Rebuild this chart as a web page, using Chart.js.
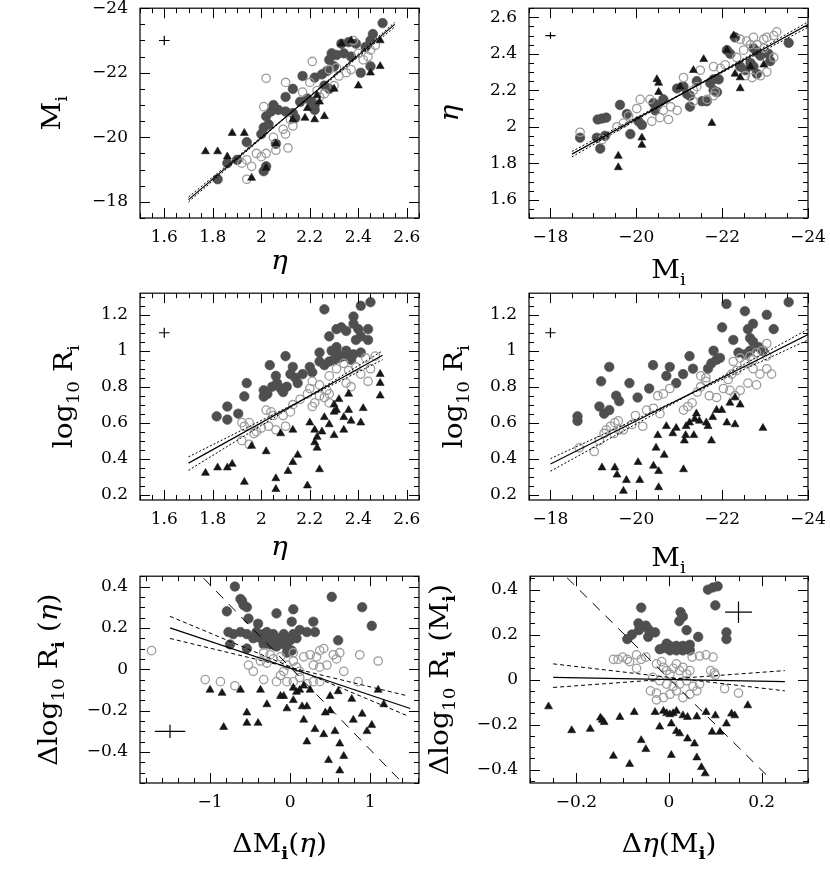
<!DOCTYPE html>
<html>
<head>
<meta charset="utf-8">
<script src="https://cdn.jsdelivr.net/npm/chart.js@4.4.0/dist/chart.umd.min.js"></script>
<style>
  body { margin: 0; background: #fff; width: 830px; height: 875px; position: relative; overflow: hidden; }
  canvas { position: absolute; }
</style>
</head>
<body>
<script>
// ---- data: [x, y] pairs per panel and per group ----

// top-left: eta vs M_i
const p1Dark = [[1.82,-18.7],[1.86,-19.2],[1.9,-19.3],[1.94,-19.85],[2.02,-19.1],[2.01,-18.95],[2.06,-19.8],[2.0,-20.1],[2.01,-20.3],[2.03,-20.4],[2.02,-20.65],[2.04,-20.8],[2.07,-20.85],[2.1,-20.8],[2.05,-21.0],[2.1,-21.25],[2.13,-21.5],[2.17,-21.9],[2.19,-21.2],[2.21,-21.1],[2.22,-21.0],[2.22,-21.85],[2.25,-21.95],[2.27,-22.05],[2.28,-22.4],[2.29,-22.6],[2.31,-22.55],[2.34,-22.6],[2.37,-22.5],[2.3,-22.2],[2.33,-22.9],[2.36,-22.95],[2.39,-22.9],[2.43,-22.8],[2.45,-23.0],[2.46,-23.2],[2.5,-23.54],[2.41,-22.0],[2.45,-22.2],[2.26,-21.6],[2.28,-21.5],[2.21,-20.95],[2.22,-20.85],[2.14,-20.6],[2.13,-20.75],[2.16,-21.1]];
const p1Open = [[1.94,-18.7],[1.92,-19.2],[1.94,-19.3],[1.96,-19.1],[1.98,-19.5],[2.0,-19.4],[2.02,-19.5],[2.01,-20.95],[2.02,-21.83],[2.1,-21.7],[2.21,-22.35],[2.1,-20.1],[2.09,-20.25],[2.11,-19.67],[2.13,-20.35],[2.12,-20.55],[2.05,-20.0],[2.06,-19.6],[2.23,-21.45],[2.24,-21.25],[2.26,-21.35],[2.3,-21.6],[2.32,-21.9],[2.35,-22.0],[2.37,-22.1],[2.4,-22.6],[2.42,-22.4],[2.45,-22.7],[2.47,-22.85],[2.44,-22.5],[2.28,-22.1],[2.31,-22.15],[2.38,-23.0],[2.2,-21.7],[2.17,-21.4]];
const p1Tri = [[1.77,-19.56],[1.82,-19.56],[1.88,-20.13],[1.93,-20.13],[1.86,-19.4],[1.96,-18.74],[2.02,-19.05],[2.06,-19.8],[2.13,-20.55],[2.18,-20.6],[2.22,-20.55],[2.26,-20.65],[2.24,-21.1],[2.4,-21.6],[2.37,-23.0],[2.45,-22.0],[2.49,-22.2],[2.49,-23.0],[2.33,-22.9],[2.3,-21.5],[2.23,-21.3],[2.19,-20.9]];
const p1FitX = [1.70, 2.55], p1FitY = [-18.07, -23.5];
const p1LoY = [-18.0, -23.56], p1HiY = [-18.15, -23.42];
const p1Err = [1.6, -23, 0.022, 0.15];   // centre x, centre y, half x, half y

// top-right: M_i vs eta
const p2Dark = [[-18.69,1.94],[-19.08,1.94],[-19.16,1.88],[-19.1,2.04],[-19.2,2.045],[-19.3,2.05],[-19.27,1.95],[-19.62,2.12],[-19.78,2.07],[-19.86,1.96],[-20.05,2.03],[-20.13,2.01],[-20.4,2.13],[-20.5,2.12],[-20.63,2.15],[-20.44,2.09],[-20.95,2.21],[-21.1,2.22],[-21.18,2.18],[-21.25,2.17],[-21.25,2.11],[-21.41,2.25],[-21.53,2.14],[-21.64,2.14],[-21.72,2.24],[-21.8,2.26],[-21.92,2.26],[-21.8,2.2],[-21.88,2.19],[-22.11,2.42],[-22.19,2.4],[-22.3,2.49],[-22.42,2.33],[-22.54,2.31],[-22.66,2.35],[-22.73,2.33],[-22.73,2.43],[-22.81,2.41],[-22.89,2.39],[-22.81,2.29],[-23.08,2.4],[-23.12,2.36],[-23.55,2.46]];
const p2Open = [[-18.69,1.97],[-19.2,1.93],[-19.55,2.0],[-19.7,2.02],[-19.82,2.06],[-20.01,2.1],[-20.09,2.15],[-20.32,2.15],[-20.36,2.03],[-20.55,2.05],[-20.75,2.04],[-20.63,2.09],[-20.8,2.11],[-20.95,2.09],[-21.1,2.27],[-21.33,2.2],[-21.41,2.22],[-21.49,2.31],[-21.33,2.14],[-21.65,2.15],[-21.8,2.17],[-21.84,2.19],[-21.8,2.33],[-21.96,2.32],[-22.07,2.34],[-22.34,2.38],[-22.5,2.42],[-22.66,2.45],[-22.81,2.45],[-22.42,2.48],[-22.57,2.47],[-22.73,2.49],[-22.97,2.48],[-23.04,2.49],[-23.2,2.5],[-23.27,2.52],[-22.54,2.28],[-22.7,2.27],[-22.89,2.28],[-23.04,2.3],[-23.2,2.38],[-22.97,2.43]];
const p2Tri = [[-19.58,1.84],[-19.58,1.777],[-20.13,1.94],[-20.13,1.9],[-20.48,2.26],[-20.52,2.24],[-20.52,2.19],[-21.02,2.22],[-21.33,2.31],[-21.57,2.37],[-21.76,2.02],[-22.11,2.42],[-22.27,2.5],[-22.42,2.21],[-22.97,2.34],[-22.3,2.29],[-22.42,2.27],[-22.66,2.33]];
const p2FitX = [-18.5, -24.0], p2FitY = [1.85, 2.56];
const p2LoY = [1.835, 2.575], p2HiY = [1.865, 2.545];
const p2Err = [-18, 2.5, 0.12, 0.018];

// middle-left: eta vs log10 R_i
const p3Dark = [[1.816,0.635],[1.86,0.617],[1.86,0.69],[1.905,0.65],[1.93,0.746],[1.94,0.82],[2.035,0.92],[2.01,0.78],[2.025,0.76],[2.045,0.8],[2.065,0.82],[2.08,0.79],[2.09,0.77],[2.105,0.8],[2.01,0.745],[2.06,0.86],[2.1,0.97],[2.13,0.91],[2.12,0.87],[2.14,0.85],[2.15,0.82],[2.17,0.87],[2.2,0.91],[2.21,0.88],[2.24,0.99],[2.24,0.94],[2.26,0.92],[2.28,0.94],[2.3,0.95],[2.26,1.23],[2.28,1.08],[2.31,1.12],[2.33,1.13],[2.35,1.11],[2.38,1.15],[2.29,1.0],[2.31,0.99],[2.32,0.96],[2.34,0.97],[2.35,1.0],[2.38,1.19],[2.4,1.12],[2.41,1.25],[2.45,1.27],[2.39,1.06],[2.41,1.08],[2.44,1.12],[2.44,1.06],[2.38,0.98],[2.41,0.99],[2.37,0.95],[2.31,1.02]];
const p3Open = [[1.92,0.6],[1.93,0.58],[1.95,0.6],[1.92,0.5],[1.95,0.48],[1.97,0.54],[1.98,0.55],[2.0,0.57],[2.02,0.67],[2.04,0.66],[2.05,0.64],[2.03,0.58],[2.06,0.56],[2.1,0.58],[2.09,0.64],[2.12,0.66],[2.13,0.7],[2.16,0.73],[2.19,0.76],[2.21,0.69],[2.22,0.71],[2.21,0.83],[2.24,0.81],[2.27,0.78],[2.28,0.86],[2.24,0.75],[2.26,0.74],[2.28,0.76],[2.31,0.9],[2.34,0.93],[2.36,0.89],[2.39,0.91],[2.35,0.82],[2.37,0.8],[2.41,0.87],[2.44,0.83],[2.45,0.9],[2.43,0.96],[2.47,0.97],[2.28,0.71],[2.2,0.79]];
const p3Tri = [[1.77,0.32],[1.82,0.35],[1.86,0.35],[1.88,0.37],[1.93,0.27],[1.96,0.47],[2.02,0.44],[2.06,0.29],[2.06,0.23],[2.08,0.54],[2.13,0.56],[2.11,0.33],[2.13,0.38],[2.15,0.42],[2.19,0.25],[2.2,0.6],[2.22,0.56],[2.23,0.52],[2.22,0.49],[2.23,0.46],[2.24,0.34],[2.25,0.55],[2.26,0.63],[2.28,0.59],[2.3,0.66],[2.31,0.67],[2.34,0.63],[2.36,0.67],[2.3,0.53],[2.34,0.56],[2.3,0.7],[2.32,0.73],[2.37,0.61],[2.41,0.6],[2.42,0.68],[2.36,0.76],[2.49,0.87],[2.49,0.82],[2.49,0.75]];
const p3FitX = [1.70, 2.50], p3FitY = [0.375, 0.975];
const p3LoY = [0.41, 0.95], p3HiY = [0.335, 1.0];
const p3Err = [1.6, 1.1, 0.022, 0.028];

// middle-right: M_i vs log10 R_i
const p4Dark = [[-18.63,0.635],[-18.63,0.61],[-19.14,0.69],[-19.18,0.83],[-19.37,0.91],[-19.25,0.65],[-19.37,0.67],[-19.53,0.75],[-19.6,0.72],[-19.84,0.82],[-20.03,0.74],[-20.3,0.79],[-20.39,0.92],[-20.7,0.86],[-20.78,0.91],[-20.93,0.82],[-21.09,0.87],[-21.24,0.97],[-21.32,0.9],[-21.67,0.9],[-21.75,0.93],[-21.87,0.95],[-21.95,0.96],[-21.8,1.0],[-22.0,1.13],[-22.1,1.26],[-22.26,1.06],[-22.38,0.99],[-22.53,0.98],[-22.65,1.0],[-22.53,1.22],[-22.6,1.12],[-22.65,1.07],[-22.72,1.05],[-23.04,1.2],[-23.2,1.12],[-23.55,1.27],[-22.72,1.15],[-22.85,1.02],[-22.95,1.0]];
const p4Open = [[-18.67,0.46],[-19.02,0.44],[-19.14,0.5],[-19.25,0.54],[-19.3,0.56],[-19.4,0.58],[-19.48,0.54],[-19.6,0.56],[-19.5,0.6],[-19.58,0.61],[-19.7,0.56],[-19.9,0.59],[-19.98,0.64],[-20.15,0.58],[-20.24,0.67],[-20.4,0.68],[-20.5,0.75],[-20.63,0.76],[-20.78,0.79],[-20.55,0.65],[-21.1,0.67],[-21.2,0.69],[-21.3,0.71],[-21.42,0.77],[-21.5,0.8],[-21.62,0.83],[-21.5,0.86],[-21.62,0.85],[-21.7,0.75],[-21.87,0.74],[-22.03,0.79],[-22.18,0.78],[-22.14,0.84],[-22.22,0.87],[-22.34,0.89],[-22.26,0.94],[-22.42,0.96],[-22.53,0.93],[-22.65,0.97],[-22.72,0.95],[-22.8,0.99],[-22.92,1.0],[-23.04,0.97],[-23.04,1.04],[-22.72,0.9],[-22.88,0.87],[-23.04,0.9],[-23.15,0.87],[-22.8,0.81],[-22.6,0.82],[-22.3,0.75],[-22.42,0.78]];
const p4Tri = [[-19.2,0.35],[-19.5,0.35],[-19.55,0.31],[-19.77,0.28],[-19.7,0.22],[-20.08,0.28],[-20.04,0.38],[-20.4,0.36],[-20.52,0.33],[-20.52,0.24],[-20.46,0.46],[-20.5,0.53],[-20.65,0.42],[-20.85,0.54],[-20.7,0.58],[-20.93,0.57],[-21.1,0.34],[-21.12,0.5],[-21.15,0.53],[-21.34,0.53],[-21.16,0.58],[-21.24,0.6],[-21.36,0.62],[-21.47,0.61],[-21.63,0.6],[-21.67,0.58],[-21.78,0.63],[-21.4,0.65],[-21.75,0.5],[-21.87,0.67],[-21.99,0.67],[-22.11,0.6],[-22.3,0.59],[-22.18,0.71],[-22.42,0.7],[-22.3,0.74],[-22.95,0.57]];
const p4FitX = [-18.0, -24.0], p4FitY = [0.37, 1.09];
const p4LoY = [0.40, 1.06], p4HiY = [0.33, 1.12];
const p4Err = [-18, 1.1, 0.12, 0.028];

// bottom-left: dM_i(eta) vs dlog10 R_i(eta)
const p5Dark = [[-0.69,0.4],[-0.62,0.34],[-0.6,0.33],[-0.58,0.31],[-0.54,0.3],[-0.79,0.28],[-0.52,0.245],[-0.77,0.18],[-0.71,0.17],[-0.62,0.18],[-0.54,0.17],[-0.75,0.12],[-0.54,0.1],[-0.46,0.15],[-0.42,0.18],[-0.37,0.15],[-0.33,0.17],[-0.29,0.18],[-0.25,0.15],[-0.21,0.17],[-0.17,0.15],[-0.12,0.14],[-0.08,0.17],[-0.04,0.15],[0.0,0.14],[0.04,0.17],[0.08,0.15],[-0.33,0.12],[-0.25,0.12],[-0.17,0.11],[-0.08,0.12],[-0.04,0.11],[-0.4,0.22],[-0.17,0.27],[0.04,0.29],[0.02,0.23],[0.29,0.23],[0.12,0.19],[0.21,0.18],[0.31,0.18],[0.52,0.35],[0.9,0.3],[1.02,0.21],[0.6,0.14],[-0.04,0.08],[0.02,0.09]];
const p5Open = [[-1.73,0.09],[-1.06,-0.05],[-0.87,-0.06],[-0.69,-0.08],[-0.52,0.02],[-0.33,0.08],[-0.25,0.07],[-0.37,0.04],[-0.29,0.03],[-0.21,0.05],[-0.12,0.06],[-0.46,-0.01],[-0.33,-0.05],[-0.17,-0.06],[-0.08,-0.01],[-0.04,0.02],[0.04,0.04],[0.08,0.01],[0.12,-0.01],[0.17,0.06],[-0.12,-0.03],[-0.04,-0.06],[0.04,-0.06],[0.12,-0.04],[0.21,-0.07],[0.29,-0.06],[0.37,-0.06],[0.25,0.07],[0.33,0.06],[0.37,0.09],[0.42,0.1],[0.29,0.02],[0.37,0.01],[0.46,0.02],[0.54,0.07],[0.58,0.05],[0.62,0.08],[0.67,-0.01],[0.87,0.07],[1.1,0.04],[0.85,-0.06],[0.04,0.08]];
const p5Tri = [[-1.0,-0.1],[-0.85,-0.115],[-0.62,-0.1],[-0.37,-0.1],[-0.29,-0.17],[-0.54,-0.21],[-0.54,-0.26],[-0.4,-0.26],[-0.83,-0.28],[-0.12,-0.13],[-0.08,-0.13],[-0.04,-0.19],[0.04,-0.09],[0.08,-0.11],[0.12,-0.1],[0.17,-0.08],[0.04,-0.15],[0.15,-0.18],[0.21,-0.18],[0.17,-0.245],[0.25,-0.1],[0.31,-0.29],[0.21,-0.35],[0.42,-0.315],[0.44,-0.21],[0.5,-0.2],[0.5,-0.13],[0.56,-0.3],[0.6,-0.107],[0.62,-0.36],[0.67,-0.42],[0.62,-0.49],[0.48,-0.44],[0.77,-0.144],[0.79,-0.245],[0.9,-0.216],[0.96,-0.3],[1.02,-0.27],[1.1,-0.1],[1.17,-0.17]];
const p5FitX = [-1.5, 1.5], p5FitY = [0.2, -0.19];
const p5LoX = [-1.5, 1.46], p5LoY = [0.256, -0.224];
const p5HiX = [-1.5, 1.46], p5HiY = [0.149, -0.128];
const p5DirX = [-1.08, 1.37], p5DirY = [0.44, -0.536];
const p5Err = [-1.5, -0.3, 0.19, 0.032];

// bottom-right: d eta(M_i) vs dlog10 R_i(M_i)
const p6Dark = [[0.084,0.4],[0.095,0.41],[0.105,0.415],[0.1,0.33],[-0.06,0.32],[-0.066,0.25],[-0.05,0.24],[-0.045,0.225],[-0.04,0.21],[-0.045,0.19],[-0.09,0.18],[-0.08,0.2],[-0.065,0.22],[-0.03,0.21],[0.025,0.3],[0.03,0.28],[0.022,0.26],[0.038,0.22],[0.063,0.19],[0.124,0.21],[0.124,0.18],[-0.005,0.16],[0.002,0.15],[0.009,0.14],[0.016,0.15],[0.023,0.14],[0.03,0.15],[0.038,0.14],[0.045,0.13],[0.002,0.13],[0.016,0.13],[-0.012,0.14],[-0.02,0.135],[0.03,0.13],[0.045,0.155]];
const p6Open = [[-0.12,0.09],[-0.11,0.09],[-0.1,0.1],[-0.09,0.09],[-0.07,0.11],[-0.06,0.09],[-0.05,0.1],[-0.07,0.05],[-0.085,0.08],[-0.027,0.07],[-0.016,0.08],[-0.012,0.055],[-0.005,0.04],[0.002,0.025],[0.009,0.05],[0.016,0.07],[0.023,0.04],[0.03,0.055],[0.038,0.025],[0.045,0.04],[-0.035,0.01],[-0.02,-0.005],[-0.005,-0.02],[0.009,-0.03],[0.023,-0.02],[0.038,-0.005],[0.052,-0.03],[0.066,-0.02],[-0.04,-0.05],[-0.027,-0.06],[-0.012,-0.08],[0.002,-0.065],[0.016,-0.05],[0.03,-0.08],[0.045,-0.065],[0.06,-0.05],[-0.027,-0.09],[0.05,0.1],[0.066,0.105],[0.08,0.11],[0.095,0.1],[0.09,0.04],[0.098,0.03],[0.12,-0.04],[0.15,-0.06],[0.1,0.02]];
const p6Tri = [[-0.26,-0.12],[-0.21,-0.226],[-0.17,-0.22],[-0.148,-0.17],[-0.144,-0.18],[-0.14,-0.19],[-0.106,-0.167],[-0.075,-0.145],[-0.12,-0.34],[-0.085,-0.376],[-0.06,-0.27],[-0.05,-0.31],[-0.03,-0.145],[-0.02,-0.21],[-0.012,-0.14],[-0.005,-0.15],[0.002,-0.155],[0.009,-0.15],[0.016,-0.14],[0.005,-0.196],[0.005,-0.336],[0.016,-0.23],[0.023,-0.24],[0.03,-0.16],[0.04,-0.167],[0.04,-0.263],[0.055,-0.285],[0.06,-0.347],[0.07,-0.39],[0.08,-0.145],[0.1,-0.16],[0.078,-0.418],[0.093,-0.233],[0.11,-0.233],[0.124,-0.196],[0.135,-0.152],[0.142,-0.16],[0.17,-0.115],[0.06,-0.165]];
const p6FitX = [-0.25, 0.25], p6FitY = [0.01, -0.009];
const p6LoX = [-0.25, 0.25], p6LoY = [0.07, -0.05];
const p6HiX = [-0.25, 0.25], p6HiY = [-0.035, 0.04];
const p6DirX = [-0.22, 0.22], p6DirY = [0.453, -0.444];
const p6Err = [0.15, 0.3, 0.029, 0.048];

// tick values
const ticksEta = [1.6, 1.8, 2, 2.2, 2.4, 2.6];
const ticksMag = [-24, -22, -20, -18];
const ticksLogR = [0.2, 0.4, 0.6, 0.8, 1, 1.2];
const ticksDM = [-1, 0, 1];
const ticksDR = [-0.4, -0.2, 0, 0.2, 0.4];
const ticksDEta = [-0.2, 0, 0.2];

// ---- drawing ----
const ML = 140, MT = 22, MR = 22, MB = 88;
const YAXIS_W = 60, XAXIS_H = 40;
const TITLE_FONT = 'DejaVu Serif';
const TITLE_SIZE = 26, SUB_SIZE = 17, SUB_DROP = 7, TITLE_STRETCH = 1.08;

const pts = arr => arr.map(([x, y]) => ({x, y}));
const pair = (xs, ys) => xs.map((v, i) => ({x: v, y: ys[i]}));

const SYMBOLS = {
  dark: {pointStyle: 'circle', pointRadius: 4.8, backgroundColor: '#4f4f4f', borderColor: '#4f4f4f', borderWidth: 0.6, order: 3},
  open: {pointStyle: 'circle', pointRadius: 4.2, backgroundColor: 'rgba(0,0,0,0)', borderColor: '#9c9c9c', borderWidth: 1.3, order: 2},
  tri:  {pointStyle: 'triangle', pointRadius: 4.6, backgroundColor: '#161616', borderColor: '#161616', borderWidth: 0.6, order: 1}
};

function lineSet(data, dash, width) {
  return {data, showLine: true, pointRadius: 0, borderColor: '#000', borderWidth: width || 1,
          borderDash: dash || [], fill: false, order: 0};
}

function errSets(e) {
  const [cx, cy, hx, hy] = e;
  return [lineSet(pair([cx - hx, cx + hx], [cy, cy]), [], 1.2),
          lineSet(pair([cx, cx], [cy - hy, cy + hy]), [], 1.2)];
}

function fmt(v) {
  return String(Math.round(v * 100) / 100).replace('-', '\u2212');
}

function axisOpts(a, horiz) {
  return {
    type: 'linear', min: a.min, max: a.max, reverse: !!a.reverse,
    grid: {display: false, drawTicks: false, tickLength: 0},
    border: {display: false},
    ticks: {autoSkip: false, maxRotation: 0, padding: horiz ? 9 : 12, color: '#000',
            font: {family: '"DejaVu Serif", "Liberation Serif", serif', size: 17}, callback: v => fmt(v)},
    afterBuildTicks: s => { s.ticks = a.major.map(v => ({value: v})); },
    afterFit: s => { if (horiz) s.height = XAXIS_H; else s.width = YAXIS_W; }
  };
}

function fontFor(p) {
  const size = p.sub ? SUB_SIZE : TITLE_SIZE;
  const style = p.it ? 'italic ' : '';
  const weight = p.b ? 'bold ' : '';
  return style + weight + size + 'px "' + TITLE_FONT + '"';
}

function drawRich(ctx, parts, cx, by, rotated) {
  ctx.save();
  ctx.translate(cx, by);
  if (rotated) ctx.rotate(-Math.PI / 2);
  ctx.scale(TITLE_STRETCH, 1);
  ctx.fillStyle = '#000';
  ctx.textBaseline = 'alphabetic';
  ctx.textAlign = 'left';
  let total = 0;
  parts.forEach(p => { ctx.font = fontFor(p); total += ctx.measureText(p.t).width; });
  let x = -total / 2;
  parts.forEach(p => {
    ctx.font = fontFor(p);
    ctx.fillText(p.t, x, p.sub ? SUB_DROP : 0);
    x += ctx.measureText(p.t).width;
  });
  ctx.restore();
}

function minorValues(a) {
  const out = [];
  const start = Math.ceil(Math.min(a.min, a.max) / a.minor - 1e-6);
  const end = Math.floor(Math.max(a.min, a.max) / a.minor + 1e-6);
  for (let k = start; k <= end; k++) out.push(k * a.minor);
  return out;
}

function decoPlugin(p) {
  return {
    id: 'deco',
    afterDraw(chart) {
      const ctx = chart.ctx, area = chart.chartArea;
      const sx = chart.scales.x, sy = chart.scales.y;
      ctx.save();
      ctx.strokeStyle = '#000';
      ctx.lineWidth = 1.2;
      ctx.strokeRect(area.left, area.top, area.right - area.left, area.bottom - area.top);
      ctx.lineWidth = 1;
      ctx.beginPath();
      const tickX = (v, len) => {
        const px = Math.round(sx.getPixelForValue(v)) + 0.5;
        ctx.moveTo(px, area.bottom); ctx.lineTo(px, area.bottom - len);
        ctx.moveTo(px, area.top); ctx.lineTo(px, area.top + len);
      };
      const tickY = (v, len) => {
        const py = Math.round(sy.getPixelForValue(v)) + 0.5;
        ctx.moveTo(area.left, py); ctx.lineTo(area.left + len, py);
        ctx.moveTo(area.right, py); ctx.lineTo(area.right - len, py);
      };
      minorValues(p.x).forEach(v => tickX(v, 5));
      p.x.major.forEach(v => tickX(v, 10));
      minorValues(p.y).forEach(v => tickY(v, 5));
      p.y.major.forEach(v => tickY(v, 10));
      ctx.stroke();
      ctx.restore();

      const cxMid = (area.left + area.right) / 2;
      const cyMid = (area.top + area.bottom) / 2;
      drawRich(ctx, p.xTitle, cxMid, area.bottom + p.xTitleDy, false);
      drawRich(ctx, p.yTitle, area.left - p.yTitleDx, cyMid, true);
    }
  };
}

function makePanel(p) {
  const [L, T, R, B] = p.box;
  const cw = (R - L) + ML + MR, ch = (B - T) + MT + MB;
  const cv = document.createElement('canvas');
  cv.width = cw; cv.height = ch;
  cv.style.left = (L - ML) + 'px';
  cv.style.top = (T - MT) + 'px';
  cv.style.width = cw + 'px';
  cv.style.height = ch + 'px';
  document.body.appendChild(cv);

  const datasets = [];
  p.lines.forEach(l => datasets.push(lineSet(l.data, l.dash, l.width)));
  datasets.push(...errSets(p.err));
  datasets.push(Object.assign({data: pts(p.tri)}, SYMBOLS.tri));
  datasets.push(Object.assign({data: pts(p.open)}, SYMBOLS.open));
  datasets.push(Object.assign({data: pts(p.dark)}, SYMBOLS.dark));

  new Chart(cv, {
    type: 'scatter',
    data: {datasets},
    options: {
      responsive: false,
      animation: false,
      events: [],
      layout: {padding: {left: ML - YAXIS_W, top: MT, right: MR, bottom: MB - XAXIS_H}},
      scales: {x: axisOpts(p.x, true), y: axisOpts(p.y, false)},
      plugins: {legend: {display: false}, tooltip: {enabled: false}}
    },
    plugins: [decoPlugin(p)]
  });
}

const DOT = [2, 2], DASH = [4, 3], LONG = [10, 8];
const tEta = [{t: '\u03b7', it: true}];
const tMag = [{t: 'M'}, {t: 'i', sub: true}];
const tLogR = [{t: 'log'}, {t: '10', sub: true}, {t: ' R'}, {t: 'i', sub: true}];

const axEta = {min: 1.5, max: 2.65, major: ticksEta, minor: 0.05};
const axMag = {min: -24, max: -17.5, reverse: true, major: ticksMag, minor: 0.5};
const axLogR = {min: 0.17, max: 1.32, major: ticksLogR, minor: 0.05};

const panels = [
  {box: [140, 8, 419, 218], x: axEta, y: axMag,
   dark: p1Dark, open: p1Open, tri: p1Tri, err: p1Err,
   lines: [{data: pair(p1FitX, p1FitY), width: 1.2},
           {data: pair(p1FitX, p1LoY), dash: DOT}, {data: pair(p1FitX, p1HiY), dash: DOT}],
   xTitle: tEta, xTitleDy: 51, yTitle: tMag, yTitleDx: 80},
  {box: [529, 8, 808, 218], x: axMag, y: axEta,
   dark: p2Dark, open: p2Open, tri: p2Tri, err: p2Err,
   lines: [{data: pair(p2FitX, p2FitY), width: 1.2},
           {data: pair(p2FitX, p2LoY), dash: DOT}, {data: pair(p2FitX, p2HiY), dash: DOT}],
   xTitle: tMag, xTitleDy: 60, yTitle: tEta, yTitleDx: 71},
  {box: [140, 293, 419, 500], x: axEta, y: axLogR,
   dark: p3Dark, open: p3Open, tri: p3Tri, err: p3Err,
   lines: [{data: pair(p3FitX, p3FitY), width: 1.2},
           {data: pair(p3FitX, p3LoY), dash: DOT}, {data: pair(p3FitX, p3HiY), dash: DOT}],
   xTitle: tEta, xTitleDy: 55, yTitle: tLogR, yTitleDx: 68},
  {box: [529, 293, 808, 500], x: axMag, y: axLogR,
   dark: p4Dark, open: p4Open, tri: p4Tri, err: p4Err,
   lines: [{data: pair(p4FitX, p4FitY), width: 1.2},
           {data: pair(p4FitX, p4LoY), dash: DOT}, {data: pair(p4FitX, p4HiY), dash: DOT}],
   xTitle: tMag, xTitleDy: 66, yTitle: tLogR, yTitleDx: 67},
  {box: [140, 576, 419, 783], x: {min: -1.875, max: 1.61, major: ticksDM, minor: 0.2},
   y: {min: -0.55, max: 0.45, major: ticksDR, minor: 0.05},
   dark: p5Dark, open: p5Open, tri: p5Tri, err: p5Err,
   lines: [{data: pair(p5FitX, p5FitY), width: 1.2},
           {data: pair(p5LoX, p5LoY), dash: DASH}, {data: pair(p5HiX, p5HiY), dash: DASH},
           {data: pair(p5DirX, p5DirY), dash: LONG}],
   xTitle: [{t: '\u0394M'}, {t: 'i', sub: true, b: true}, {t: '('}, {t: '\u03b7', it: true}, {t: ')'}],
   xTitleDy: 69,
   yTitle: [{t: '\u0394log'}, {t: '10', sub: true}, {t: ' R'}, {t: 'i', sub: true, b: true},
            {t: ' ('}, {t: '\u03b7', it: true}, {t: ')'}],
   yTitleDx: 83},
  {box: [530, 576, 808, 783], x: {min: -0.3, max: 0.3, major: ticksDEta, minor: 0.05},
   y: {min: -0.46, max: 0.46, major: ticksDR, minor: 0.05},
   dark: p6Dark, open: p6Open, tri: p6Tri, err: p6Err,
   lines: [{data: pair(p6FitX, p6FitY), width: 1.2},
           {data: pair(p6LoX, p6LoY), dash: DASH}, {data: pair(p6HiX, p6HiY), dash: DASH},
           {data: pair(p6DirX, p6DirY), dash: LONG}],
   xTitle: [{t: '\u0394'}, {t: '\u03b7', it: true}, {t: '(M'}, {t: 'i', sub: true, b: true}, {t: ')'}],
   xTitleDy: 69,
   yTitle: [{t: '\u0394log'}, {t: '10', sub: true}, {t: ' R'}, {t: 'i', sub: true, b: true},
            {t: ' (M'}, {t: 'i', sub: true, b: true}, {t: ')'}],
   yTitleDx: 82}
];

panels.forEach(makePanel);
</script>
</body>
</html>
